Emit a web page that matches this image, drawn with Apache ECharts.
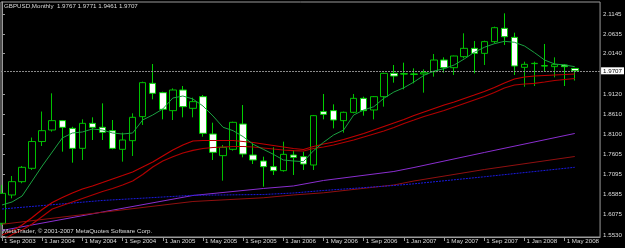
<!DOCTYPE html>
<html><head><meta charset="utf-8">
<script src="https://cdn.jsdelivr.net/npm/echarts@6/dist/echarts.min.js"></script>
<style>html,body{margin:0;padding:0;background:#000;}#c{width:625px;height:248px;}</style>
</head><body><div id="c"></div>
<script>
const symbolName = 'GBPUSD,Monthly';
const copyright = 'MetaTrader, \u00a9 2001-2007 MetaQuotes Software Corp.';
const months = ['Sep 2003','Oct 2003','Nov 2003','Dec 2003',
 'Jan 2004','Feb 2004','Mar 2004','Apr 2004','May 2004','Jun 2004','Jul 2004','Aug 2004','Sep 2004','Oct 2004','Nov 2004','Dec 2004',
 'Jan 2005','Feb 2005','Mar 2005','Apr 2005','May 2005','Jun 2005','Jul 2005','Aug 2005','Sep 2005','Oct 2005','Nov 2005','Dec 2005',
 'Jan 2006','Feb 2006','Mar 2006','Apr 2006','May 2006','Jun 2006','Jul 2006','Aug 2006','Sep 2006','Oct 2006','Nov 2006','Dec 2006',
 'Jan 2007','Feb 2007','Mar 2007','Apr 2007','May 2007','Jun 2007','Jul 2007','Aug 2007','Sep 2007','Oct 2007','Nov 2007','Dec 2007',
 'Jan 2008','Feb 2008','Mar 2008','Apr 2008','May 2008','Jun 2008'];
const opens = [1.5845,1.6563,1.6900,1.7238,1.7916,1.8208,1.8445,1.8250,1.7744,1.8377,1.8276,1.8191,1.7719,1.7938,1.8546,1.9390,1.9153,1.8698,1.9221,1.8757,1.9052,1.8107,1.7559,1.7719,1.8360,1.7575,1.7423,1.7280,1.7179,1.7575,1.7533,1.7322,1.8673,1.8698,1.8445,1.8656,1.9010,1.8715,1.9052,1.9643,1.9630,1.9626,1.9626,1.9685,1.9980,1.9786,2.0065,2.0276,2.0149,2.0445,2.0782,2.0554,1.9795,1.9888,1.9835,1.9812,1.9854,1.9767];
const closes = [1.6605,1.6900,1.7263,1.7916,1.8191,1.8445,1.8276,1.7744,1.8377,1.8276,1.8149,1.7744,1.7955,1.8529,1.9407,1.9137,1.8732,1.9221,1.8799,1.8926,1.8124,1.7643,1.7770,1.8402,1.7600,1.7449,1.7280,1.7179,1.7592,1.7516,1.7347,1.8571,1.8605,1.8461,1.8656,1.9010,1.8698,1.9052,1.9643,1.9575,1.9626,1.9620,1.9660,1.9980,1.9786,2.0082,2.0276,2.0149,2.0445,2.0799,2.0571,1.9829,1.9871,1.9896,1.9829,1.9862,1.9812,1.9707];
const lows = [1.5786,1.6478,1.6860,1.7196,1.7803,1.8166,1.7660,1.7381,1.7449,1.7955,1.7955,1.7719,1.7407,1.7550,1.8335,1.8985,1.8478,1.8461,1.8529,1.8529,1.8039,1.7449,1.6925,1.7685,1.7516,1.7347,1.6774,1.7069,1.7153,1.7069,1.7196,1.7196,1.8478,1.8250,1.8141,1.8630,1.8571,1.8478,1.8799,1.9407,1.9238,1.9390,1.9154,1.9559,1.9660,1.9601,2.0023,1.9643,1.9854,2.0402,2.0360,1.9601,1.9305,1.9322,1.9685,1.9542,1.9322,1.9461];
const highs = [1.6816,1.7044,1.7297,1.8017,1.8676,1.9137,1.8462,1.8290,1.8478,1.8529,1.8883,1.8461,1.8141,1.8630,1.9432,1.9879,1.9179,1.9263,1.9322,1.9027,1.9094,1.8393,1.7829,1.8419,1.8841,1.7870,1.7533,1.7769,1.7913,1.7702,1.7660,1.8588,1.9120,1.8858,1.8673,1.9120,1.9052,1.9069,1.9660,1.9854,1.9913,1.9769,1.9744,2.0132,2.0048,2.0090,2.0656,2.0461,2.0470,2.0824,2.1162,2.0672,1.9938,1.9938,2.0386,2.0048,1.9879,1.9771];
const maGreen = [1.6310,1.6386,1.6537,1.6917,1.7297,1.7651,1.8006,1.8132,1.8158,1.8234,1.8208,1.8132,1.8107,1.8132,1.8462,1.8588,1.8740,1.9018,1.9069,1.8993,1.8816,1.8563,1.8277,1.8191,1.8039,1.7846,1.7720,1.7593,1.7449,1.7424,1.7406,1.7684,1.7897,1.8082,1.8208,1.8588,1.8715,1.8798,1.9011,1.9170,1.9279,1.9424,1.9593,1.9702,1.9760,1.9854,2.0006,2.0175,2.0302,2.0393,2.0454,2.0429,2.0335,2.0165,1.9980,1.9879,1.9854,1.9811];
const maRedA = [1.5550,1.5651,1.5803,1.5993,1.6196,1.6373,1.6499,1.6613,1.6715,1.6791,1.6879,1.6968,1.7056,1.7145,1.7272,1.7398,1.7550,1.7702,1.7829,1.7930,1.7942,1.7942,1.7942,1.7942,1.7917,1.7892,1.7854,1.7816,1.7778,1.7740,1.7715,1.7791,1.7854,1.7905,1.7968,1.8044,1.8120,1.8208,1.8297,1.8386,1.8474,1.8575,1.8664,1.8753,1.8841,1.8917,1.9006,1.9094,1.9183,1.9284,1.9398,1.9499,1.9550,1.9575,1.9588,1.9601,1.9613,1.9626];
const maRedB = [1.5398,1.5563,1.5677,1.5829,1.6019,1.6208,1.6297,1.6386,1.6474,1.6563,1.6651,1.6727,1.6816,1.6917,1.7082,1.7272,1.7424,1.7532,1.7626,1.7694,1.7740,1.7765,1.7778,1.7791,1.7791,1.7778,1.7753,1.7727,1.7702,1.7684,1.7677,1.7740,1.7778,1.7829,1.7892,1.7955,1.8031,1.8107,1.8183,1.8272,1.8373,1.8461,1.8550,1.8626,1.8702,1.8791,1.8879,1.8968,1.9056,1.9158,1.9272,1.9348,1.9373,1.9391,1.9424,1.9462,1.9487,1.9512];
const longIdx = [0,10,19,26,29,32,39,41,48,57];
const maPurple = [1.5664,1.6132,1.6550,1.6727,1.6791,1.6930,1.7158,1.7259,1.7639,1.8120];
const maDarkRed = [1.5821,1.6125,1.6398,1.6492,1.6563,1.6618,1.6816,1.6917,1.7208,1.7537];
const maBlue = [1.6208,1.6424,1.6555,1.6575,1.6613,1.6677,1.6803,1.6846,1.7024,1.7264];
const yTickValues = [2.1145,2.0635,2.0140,1.9120,1.8610,1.8100,1.7605,1.7095,1.6585,1.6075,1.5530];
const xTickIdx = [0,4,8,12,16,20,24,28,32,36,40,44,48,52,56];
const xTickLabels = ['1 Sep 2003','1 Jan 2004','1 May 2004','1 Sep 2004','1 Jan 2005','1 May 2005','1 Sep 2005','1 Jan 2006','1 May 2006','1 Sep 2006','1 Jan 2007','1 May 2007','1 Sep 2007','1 Jan 2008','1 May 2008'];
const currentPrice = 1.9707;

const FONT = 'Liberation Sans';
const FS = 6.2;
const TXT = '#dcdcdc';
const GRAY = '#9a9a9a';
const last = opens.length - 1;
const candleData = months.map((m, i) => [i, opens[i], closes[i], lows[i], highs[i]]);
const pairs = arr => arr.map((v, i) => [i, v]);
const sparse = (idx, arr) => idx.map((x, k) => [x, arr[k]]);
const lineSeries = (data, color, width, type) => ({
  type: 'line', data, showSymbol: false, symbol: 'none', z: 3, silent: true,
  lineStyle: { color, width, type: type || 'solid' }
});

const chart = echarts.init(document.getElementById('c'), null, { renderer: 'canvas' });
chart.setOption({
  backgroundColor: '#000',
  animation: false,
  title: [
    { text: symbolName + '  ' + [opens[last], highs[last], lows[last], closes[last]].map(v => v.toFixed(4)).join(' '),
      left: 4, top: 3, padding: 0,
      textStyle: { color: TXT, fontSize: FS, fontWeight: 'normal', fontFamily: FONT } },
    { text: copyright, left: 3, top: 228, padding: 0,
      textStyle: { color: TXT, fontSize: FS, fontWeight: 'normal', fontFamily: FONT } }
  ],
  grid: { left: 1, right: 23, top: 2, bottom: 11, show: true, borderColor: GRAY, borderWidth: 1, backgroundColor: '#000' },
  xAxis: {
    type: 'value', min: -0.1, max: 59.52,
    axisLine: { show: true, lineStyle: { color: GRAY } },
    splitLine: { show: false },
    axisTick: { show: true, customValues: xTickIdx, length: 4, lineStyle: { color: GRAY } },
    axisLabel: { customValues: xTickIdx, formatter: v => xTickLabels[xTickIdx.indexOf(Math.round(v))],
      align: 'left', margin: 1, padding: [0, 0, 0, 2], color: TXT, fontSize: FS, fontFamily: FONT }
  },
  yAxis: {
    type: 'value', position: 'right', min: 1.5499, max: 2.1449,
    axisLine: { show: true, lineStyle: { color: GRAY } },
    splitLine: { show: false },
    axisTick: { show: true, customValues: yTickValues, length: 3, lineStyle: { color: GRAY } },
    axisLabel: { customValues: yTickValues, formatter: v => v.toFixed(4), margin: 3, color: TXT, fontSize: FS, fontFamily: FONT }
  },
  series: [
    {
      type: 'candlestick', data: candleData, encode: { x: 0, y: [1, 2, 3, 4] },
      barWidth: 7, z: 2, silent: true,
      itemStyle: { color: '#000', color0: '#fff', borderColor: '#00c000', borderColor0: '#00d000', borderWidth: 1 },
      markLine: {
        symbol: 'none', silent: true, animation: false, precision: 4,
        lineStyle: { color: '#8a8a8a', type: [2, 1], width: 1 },
        label: { position: 'end', distance: 1, formatter: () => currentPrice.toFixed(4), color: '#000', backgroundColor: '#fff',
          padding: [1, 2, 0, 2], fontSize: FS, fontFamily: FONT },
        data: [{ yAxis: currentPrice }]
      }
    },
    lineSeries(sparse(longIdx, maPurple), '#8a2ed0', 1),
    lineSeries(sparse(longIdx, maDarkRed), '#901010', 1),
    lineSeries(sparse(longIdx, maBlue), '#1a1ae0', 1, [2, 1]),
    lineSeries(pairs(maRedA), '#c00000', 1.2),
    lineSeries(pairs(maRedB), '#b00000', 1.2),
    lineSeries(pairs(maGreen), '#1aa040', 1)
  ]
});
</script></body></html>
